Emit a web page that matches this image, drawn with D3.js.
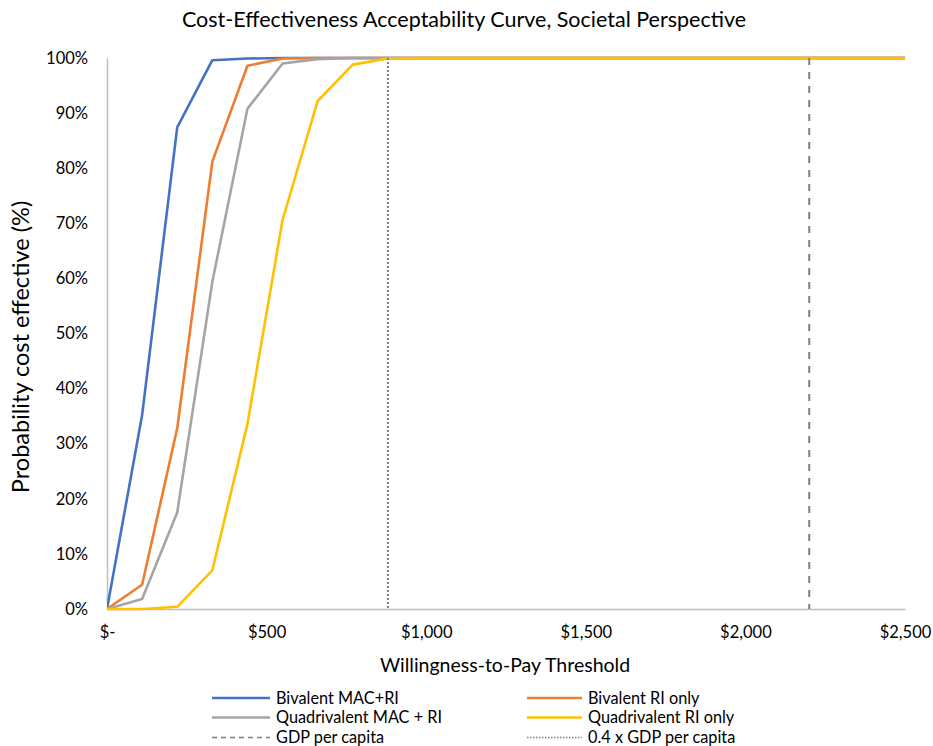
<!DOCTYPE html>
<html><head><meta charset="utf-8">
<script src="https://cdn.jsdelivr.net/npm/d3@7"></script>
<style>body{margin:0;background:#fff}svg{display:block}text{font-family:Lato,"Open Sans",sans-serif;fill:#000}</style>
</head><body><svg id="c" width="933" height="746"></svg>
<script>
const wtp = [0,110,220,330,440,550,660,770,880,990,1100,1210,1320,1430,1540,1650,1760,1870,1980,2090,2200,2310,2420,2530];
const bivalentMacRi   = [0,35.2,87.4,99.6,99.9,100,100,100,100,100,100,100,100,100,100,100,100,100,100,100,100,100,100,100];
const bivalentRi      = [0,4.4,32.8,81.2,98.6,99.9,100,100,100,100,100,100,100,100,100,100,100,100,100,100,100,100,100,100];
const quadMacRi       = [0,1.8,17.5,59.4,90.8,99.0,99.8,100,100,100,100,100,100,100,100,100,100,100,100,100,100,100,100,100];
const quadRi          = [0,0,0.4,7.0,33.6,70.6,92.2,98.8,99.9,100,100,100,100,100,100,100,100,100,100,100,100,100,100,100];
const seriesNames = ["Bivalent MAC+RI","Bivalent RI only","Quadrivalent MAC + RI","Quadrivalent RI only"];
const gdpPerCapita = 2200;
const gdpFraction = 0.4;
const xTicks = [0,500,1000,1500,2000,2500];
const yTicks = [0,10,20,30,40,50,60,70,80,90,100];
const title = "Cost-Effectiveness Acceptability Curve, Societal Perspective";
const xTitle = "Willingness-to-Pay Threshold";
const yTitle = "Probability cost effective (%)";

const colors = ["#4472C4","#ED7D31","#A5A5A5","#FFC000"];
const series = [bivalentMacRi, bivalentRi, quadMacRi, quadRi];

const svg = d3.select("#c");
const L=107,R=905,T=58,B=609;
const x = d3.scaleLinear().domain([0,2500]).range([L,R]);
const y = d3.scaleLinear().domain([0,100]).range([B,T]);

svg.append("defs").append("clipPath").attr("id","clip").append("rect")
  .attr("x",L).attr("y",T-5).attr("width",R-L).attr("height",B-T+10);

// axes
const fmtX = v => v===0 ? "$-" : "$" + d3.format(",")(v);
const xAxis = svg.append("g").attr("transform",`translate(0,${B})`)
  .call(d3.axisBottom(x).tickValues(xTicks).tickFormat(fmtX).tickSize(0).tickPadding(17));
const yAxis = svg.append("g").attr("transform",`translate(${L},0)`)
  .call(d3.axisLeft(y).tickValues(yTicks).tickFormat(d=>d+"%").tickSize(0).tickPadding(19));
[xAxis,yAxis].forEach(a=>{
  a.select(".domain").attr("stroke","#bfbfbf").attr("stroke-width",1.5);
  a.selectAll("text").style("font-size","16.5px").attr("fill","#000");
});

const line = d3.line().x((d,i)=>x(wtp[i])).y(d=>y(d));
const g = svg.append("g").attr("clip-path","url(#clip)");
series.forEach((s,k)=>{
  g.append("path").datum(s).attr("d",line).attr("fill","none")
   .attr("stroke",colors[k]).attr("stroke-width",2.6).attr("stroke-linejoin","round");
});

// reference lines
svg.append("line").attr("x1",x(gdpPerCapita*gdpFraction)).attr("x2",x(gdpPerCapita*gdpFraction))
  .attr("y1",y(100)).attr("y2",y(0)).attr("stroke","#7f7f7f").attr("stroke-width",2).attr("stroke-dasharray","2,2");
svg.append("line").attr("x1",x(gdpPerCapita)).attr("x2",x(gdpPerCapita))
  .attr("y1",y(100)).attr("y2",y(0)).attr("stroke","#7f7f7f").attr("stroke-width",2).attr("stroke-dasharray","7,7");

// titles
svg.append("text").attr("x",464).attr("y",27).attr("text-anchor","middle").style("font-size","21.5px").text(title);
svg.append("text").attr("x",505).attr("y",672).attr("text-anchor","middle").style("font-size","19.5px").text(xTitle);
svg.append("text").attr("transform","translate(29,347) rotate(-90)").attr("text-anchor","middle").style("font-size","23.5px").text(yTitle);

// legend
const legendItems = [
  {name:seriesNames[0], color:colors[0], dash:null, col:0,row:0},
  {name:seriesNames[1], color:colors[1], dash:null, col:1,row:0},
  {name:seriesNames[2], color:colors[2], dash:null, col:0,row:1},
  {name:seriesNames[3], color:colors[3], dash:null, col:1,row:1},
  {name:"GDP per capita", color:"#7f7f7f", dash:"5,4", col:0,row:2},
  {name:gdpFraction+" x GDP per capita", color:"#7f7f7f", dash:"1.5,1.5", col:1,row:2}
];
const colX=[[212,270,276],[527,582,588]];
const rowY=[698,717.5,737.5];
legendItems.forEach(it=>{
  const cx=colX[it.col], cy=rowY[it.row];
  const ln = svg.append("line").attr("x1",cx[0]).attr("x2",cx[1]).attr("y1",cy).attr("y2",cy)
    .attr("stroke",it.color).attr("stroke-width",it.dash?1.5:2.6);
  if(it.dash) ln.attr("stroke-dasharray",it.dash);
  svg.append("text").attr("x",cx[2]).attr("y",cy).attr("dy","0.35em").style("font-size","16.3px").text(it.name);
});
</script></body></html>
